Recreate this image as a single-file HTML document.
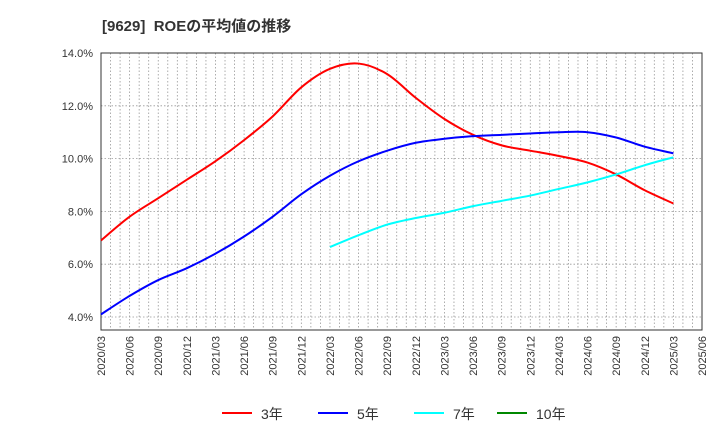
<!DOCTYPE html>
<html><head><meta charset="utf-8"><style>
body{margin:0;background:#fff;font-family:"Liberation Sans","Noto Sans CJK JP",sans-serif;}
</style></head><body>
<svg width="720" height="440" xmlns="http://www.w3.org/2000/svg" id="chart" style="font-family:'Liberation Sans','Noto Sans CJK JP',sans-serif">
<text x="102" y="31" font-size="15" font-weight="bold" fill="#333" style="white-space:pre" xml:space="preserve">[9629]  ROEの平均値の推移</text>
</svg>
<script>
const xLabels=["2020/03","2020/06","2020/09","2020/12","2021/03","2021/06","2021/09","2021/12","2022/03","2022/06","2022/09","2022/12","2023/03","2023/06","2023/09","2023/12","2024/03","2024/06","2024/09","2024/12","2025/03","2025/06"];
const yTicks=[4,6,8,10,12,14];
const s3=[6.9,7.8,8.5,9.2,9.9,10.7,11.6,12.7,13.4,13.6,13.2,12.3,11.5,10.9,10.5,10.3,10.1,9.85,9.4,8.8,8.3];
const s5=[4.1,4.8,5.4,5.85,6.4,7.05,7.8,8.65,9.35,9.9,10.3,10.6,10.75,10.85,10.9,10.95,11.0,11.0,10.8,10.45,10.2];
const s7=[null,null,null,null,null,null,null,null,6.65,7.1,7.5,7.75,7.95,8.2,8.4,8.6,8.85,9.1,9.4,9.75,10.05];
const s10=[];
const NS="http://www.w3.org/2000/svg",svg=document.getElementById('chart');
const L=101,R=702,T=53,B=330;
const xs=i=>L+i*(R-L)/(xLabels.length-1);
const ys=v=>T+(14-v)*(317-T)/10;
function mk(t,a,p){const e=document.createElementNS(NS,t);for(const k in a)e.setAttribute(k,a[k]);(p||svg).appendChild(e);return e;}
const g=mk('g',{});


for(let m=1;m<(xLabels.length-1)*3;m++){const x=L+m*(R-L)/((xLabels.length-1)*3);mk('line',{x1:x,x2:x,y1:T,y2:B,stroke:'#999','stroke-width':0.8,'stroke-dasharray':'1.5,2'},g);}
yTicks.forEach(v=>{const y=ys(v);mk('line',{x1:L,x2:R,y1:y,y2:y,stroke:'#999','stroke-width':0.8,'stroke-dasharray':'1.5,2'},g);
const t=mk('text',{x:L-8,y:y+4,'text-anchor':'end','font-size':11,fill:'#333'});t.textContent=v.toFixed(1)+'%';

});
xLabels.forEach((l,i)=>{const x=xs(i);const t=mk('text',{x:0,y:0,'font-size':11,fill:'#333','text-anchor':'end',transform:`translate(${x+4},${B+6}) rotate(-90)`});t.textContent=l;

});
const frame=mk('rect',{x:L,y:T,width:R-L,height:B-T,fill:'none',stroke:'#333','stroke-width':1});


function path(arr){const p=[];arr.forEach((v,i)=>{if(v!=null)p.push([xs(i),ys(v)]);});if(p.length<2)return '';
let d=`M${p[0][0]},${p[0][1]}`;for(let i=0;i<p.length-1;i++){const p0=p[i-1]||p[i],p1=p[i],p2=p[i+1],p3=p[i+2]||p2;
d+=` C${p1[0]+(p2[0]-p0[0])/6},${p1[1]+(p2[1]-p0[1])/6} ${p2[0]-(p3[0]-p1[0])/6},${p2[1]-(p3[1]-p1[1])/6} ${p2[0]},${p2[1]}`;}return d;}
[[s3,'#f00','line-3y'],[s5,'#00f','line-5y'],[s7,'#0ff','line-7y'],[s10,'#080','line-10y']].forEach(([a,c,n])=>{const d=path(a);if(!d)return;const e=mk('path',{d:d,fill:'none',stroke:c,'stroke-width':2});

});
[['3年','#f00',222],['5年','#00f',318],['7年','#0ff',414],['10年','#080',497]].forEach(([t,c,x])=>{const lg=mk('g',{});


mk('line',{x1:x,x2:x+30,y1:413,y2:413,stroke:c,'stroke-width':2},lg);const tx=mk('text',{x:x+39,y:419,'font-size':14,fill:'#333'},lg);tx.textContent=t;});
</script>
</body></html>
